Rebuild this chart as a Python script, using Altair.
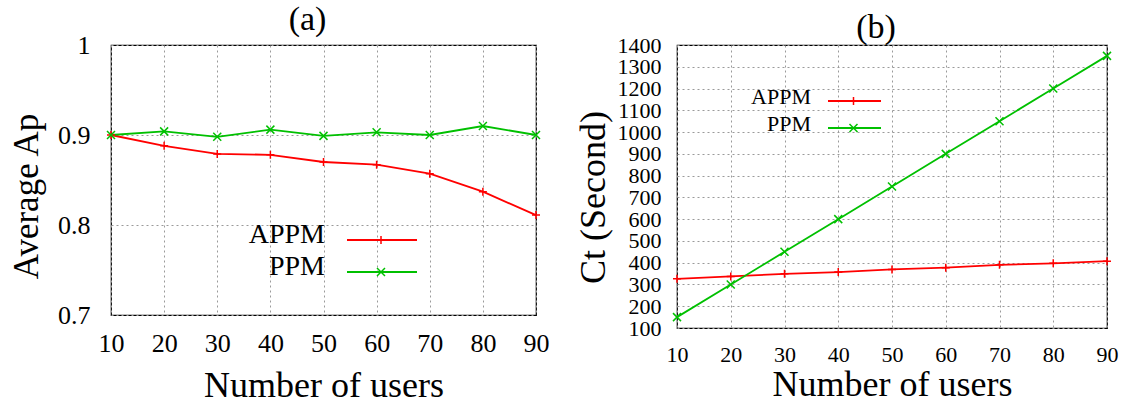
import altair as alt
import pandas as pd

# ---------------- data ----------------
users = [10, 20, 30, 40, 50, 60, 70, 80, 90]
series_names = ["APPM", "PPM"]
appm_ap = [0.900, 0.888, 0.879, 0.878, 0.870, 0.867, 0.857, 0.837, 0.811]
ppm_ap = [0.900, 0.904, 0.898, 0.906, 0.899, 0.903, 0.900, 0.910, 0.900]
appm_ct = [326, 337, 349, 357, 369, 377, 390, 397, 407]
ppm_ct = [150, 300, 450, 600, 750, 900, 1050, 1200, 1350]
ap_ticks = [0.7, 0.8, 0.9, 1.0]
ct_ticks = [100, 200, 300, 400, 500, 600, 700, 800, 900, 1000, 1100, 1200, 1300, 1400]

colors = ["#ff0000", "#00c000"]
marker_paths = ["M-1,0H1M0,-1V1", "M-1,-1L1,1M-1,1L1,-1"]
FONT = "Liberation Serif"


def frame(a, b):
    rows = []
    for name, vals in zip(series_names, [a, b]):
        for u, v in zip(users, vals):
            rows.append({"users": u, "value": v, "series": name, "marker": name, "lbl": name})
    return pd.DataFrame(rows)


def panel(df, title, title_offset, width, height, ydomain, yticks, yfmt, ytitle,
          xlab_fs, ylab_fs, xlab_pad, ylab_pad, xtitle_pad, ytitle_x, ytitle_y, ytitle_fs,
          line_x, line_y, line_w, leg_row, lab_x, lab_y, lab_fs):
    common = dict(grid=True, gridDash=[2, 3], gridColor="#9a9a9a", gridWidth=1,
                  ticks=False, domain=False, labelFont=FONT, titleFont=FONT,
                  titleFontWeight="normal", labelColor="black", titleColor="black",
                  labelOverlap=False, labelFlush=False)
    x = alt.X("users:Q", scale=alt.Scale(domain=[10, 90], nice=False, zero=False),
              axis=alt.Axis(values=users, title="Number of users", labelFontSize=xlab_fs,
                            labelPadding=xlab_pad, titleFontSize=36, titlePadding=xtitle_pad,
                            **common))
    y = alt.Y("value:Q", scale=alt.Scale(domain=ydomain, nice=False, zero=False),
              axis=alt.Axis(values=yticks, format=yfmt, title=ytitle, labelFontSize=ylab_fs,
                            labelPadding=ylab_pad, titleFontSize=ytitle_fs, titleX=ytitle_x,
                            titleY=ytitle_y, titleBaseline="middle", titleAngle=270,
                            **common))
    base = alt.Chart(df)
    # legend 1: coloured line strokes (no labels)
    line_legend = alt.Legend(orient="none", legendX=line_x, legendY=line_y, symbolType="stroke",
                             symbolSize=line_w * line_w, symbolStrokeWidth=1.8,
                             clipHeight=leg_row, rowPadding=0, padding=0, labelExpr="''",
                             labelFontSize=1, labelOffset=0, title=None)
    # legend 2: point markers centred on the strokes (no labels)
    mark_legend = alt.Legend(orient="none", legendX=line_x + line_w / 2 - 5, legendY=line_y,
                             symbolSize=64, symbolStrokeWidth=1.5, clipHeight=leg_row,
                             rowPadding=0, padding=0, labelExpr="''", labelFontSize=1,
                             labelOffset=0, title=None)
    # legend 3: series names, right-aligned to the left of the strokes
    text_legend = alt.Legend(orient="none", legendX=lab_x, legendY=lab_y, symbolOpacity=0,
                             symbolSize=1, symbolStrokeWidth=0, clipHeight=leg_row,
                             rowPadding=0, padding=0, labelOffset=0, labelAlign="right",
                             labelFont=FONT, labelFontSize=lab_fs, labelColor="black",
                             labelLimit=300, title=None)
    line = base.mark_line(strokeWidth=1.8).encode(
        x=x, y=y,
        color=alt.Color("series:N", scale=alt.Scale(range=colors), legend=line_legend),
        opacity=alt.Opacity("lbl:O", scale=alt.Scale(range=[1, 1]), legend=text_legend),
    )
    pts = base.mark_point(size=64, strokeWidth=1.5, filled=False, opacity=1).encode(
        x=x, y=y,
        stroke=alt.Stroke("marker:N", scale=alt.Scale(range=colors), legend=mark_legend),
        shape=alt.Shape("marker:N", scale=alt.Scale(range=marker_paths), legend=mark_legend),
    )
    return alt.layer(line, pts).properties(
        width=width, height=height,
        title=alt.TitleParams(text=title, font=FONT, fontSize=34, fontWeight="normal",
                              anchor="middle", dx=-16, offset=title_offset,
                              baseline="alphabetic", color="black"),
    ).resolve_scale(color="independent", stroke="independent", shape="independent",
                    opacity="independent")


left = panel(frame(appm_ap, ppm_ap), "(a)", -31.5, 425, 270, [0.7, 1.0], ap_ticks, ".1~f",
             "Average Ap", 26, 26, 15, 21, 12, -85, 151, 35,
             235, 179, 70, 32, 186, 174, 28)
right = panel(frame(appm_ct, ppm_ct), "(b)", -38, 430, 283, [100, 1400], ct_ticks, "d",
              "Ct (Second)", 22, 22, 16, 16, 2, -84, 152, 36,
              150, 42.5, 53, 27, 112, 38.5, 22)

chart = alt.hconcat(left, right, spacing=24).resolve_scale(
    color="independent", stroke="independent", shape="independent", opacity="independent"
).properties(
    padding={"left": 8, "top": 1, "right": 5, "bottom": 0},
    background="white",
).configure(font=FONT).configure_view(stroke="black", strokeWidth=1.2)

chart.save("out.html", embed_options={"renderer": "svg", "actions": False})
